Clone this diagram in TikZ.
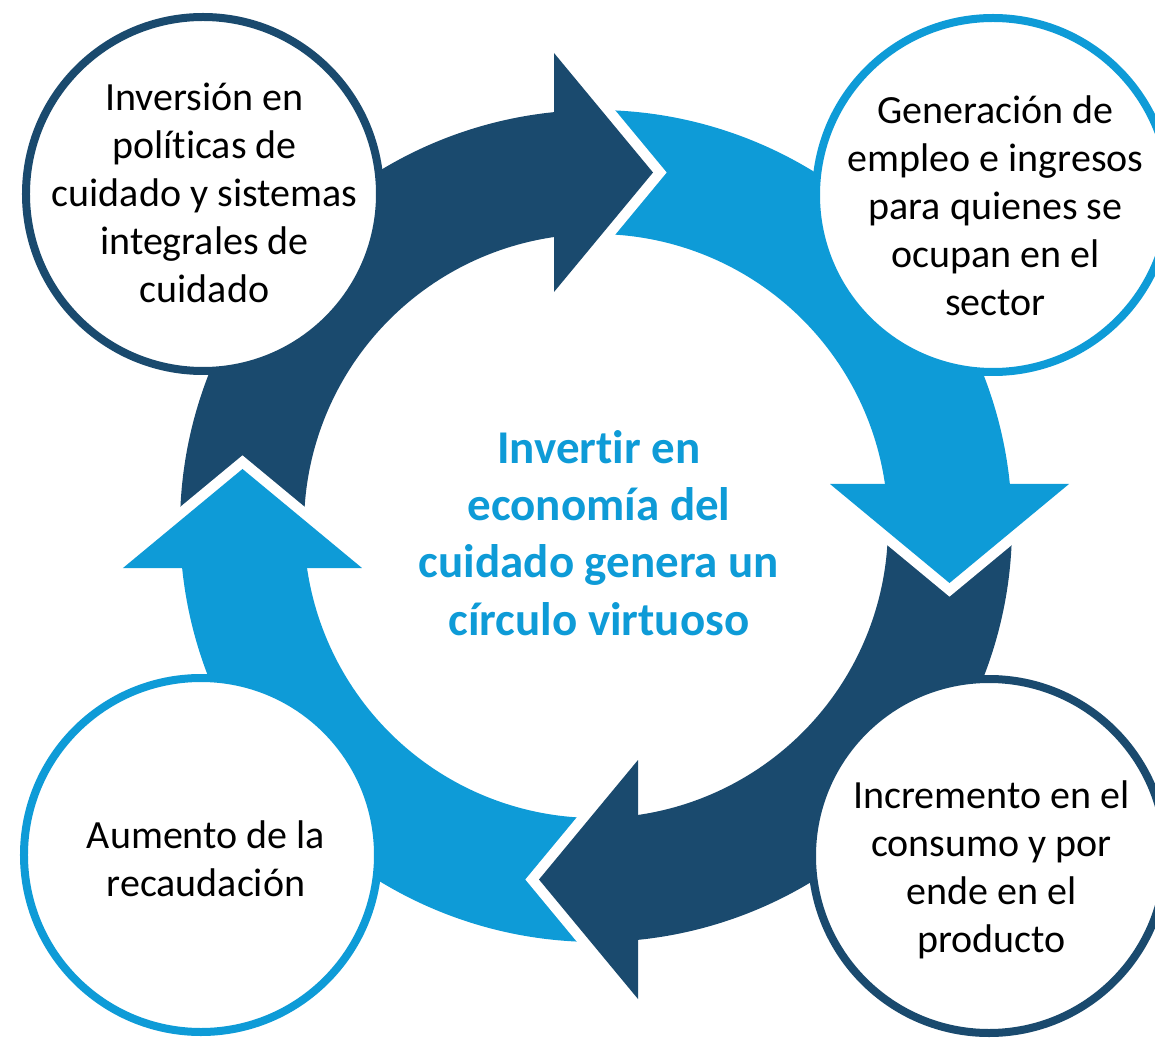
\documentclass[tikz,border=0pt]{standalone}
\usepackage{fontspec}
\setmainfont{Carlito}[Ligatures=NoCommon]
\definecolor{dk}{RGB}{26,74,110}
\definecolor{lt}{RGB}{14,155,215}
\newcommand\Lh{\rule[-0.26em]{0pt}{1.18em}}
\newcommand\Lc{\rule[-0.2em]{0pt}{1.05em}}
\begin{document}
\begin{tikzpicture}[x=1pt,y=1pt,
  circ/.style={circle, fill=white, line width=8pt, minimum size=354pt, inner sep=0pt},
  txt/.style={anchor=north, align=center, inner sep=0pt, text=black, font=\fontsize{40}{48}\selectfont},
  ctxt/.style={anchor=north, align=center, inner sep=0pt, text=lt, font=\bfseries\fontsize{47}{57.3}\selectfont},
  gapline/.style={white, line width=21pt, line join=miter, line cap=butt}]
\useasboundingbox (-596,-512) rectangle (559,526);
\clip (-596,-512) rectangle (559,526);
% arc bands
\foreach \r/\c in {0/dk,-90/lt,-180/dk,-270/lt}{
  \fill[\c, rotate=\r] (185.66:416) arc[start angle=185.66, end angle=94.96, radius=416]
     -- (97.08:292) arc[start angle=97.08, end angle=188.07, radius=292] -- cycle;
}
% arrow heads
\foreach \r/\c in {0/dk,-90/lt,-180/dk,-270/lt}{
  \begin{scope}[rotate=\r]
    \draw[gapline] (-42,473) -- (57,353.5) -- (-42,234);
    \fill[\c] (-42,473) -- (57,353.5) -- (-42,234) -- cycle;
  \end{scope}
}
% circles
\node[circ, draw=dk] (c1) at (-393,332) {};
\node[circ, draw=lt] (c2) at (397,331) {};
\node[circ, draw=dk] (c3) at (393,-330) {};
\node[circ, draw=lt] (c4) at (-395,-329) {};
% texts
\node[txt] (t1) at (-391.5,452.8) {\Lh Inversión en\\\Lh políticas de\\\Lh cuidado y sistemas\\\Lh integrales de\\\Lh cuidado};
\node[txt] (t2) at (399.5,439.5) {\Lh Generación de\\\Lh empleo e ingresos\\\Lh para quienes se\\\Lh ocupan en el\\\Lh sector};
\node[txt] (t3) at (395.5,-245.2) {\Lh Incremento en el\\\Lh consumo y por\\\Lh ende en el\\\Lh producto};
\node[txt] (t4) at (-390,-285.2) {\Lh Aumento de la\\\Lh recaudación};
\node[ctxt] (t0) at (3,103) {\Lc Invertir en\\\Lc economía del\\\Lc cuidado genera un\\\Lc círculo virtuoso};
\end{tikzpicture}
\end{document}
